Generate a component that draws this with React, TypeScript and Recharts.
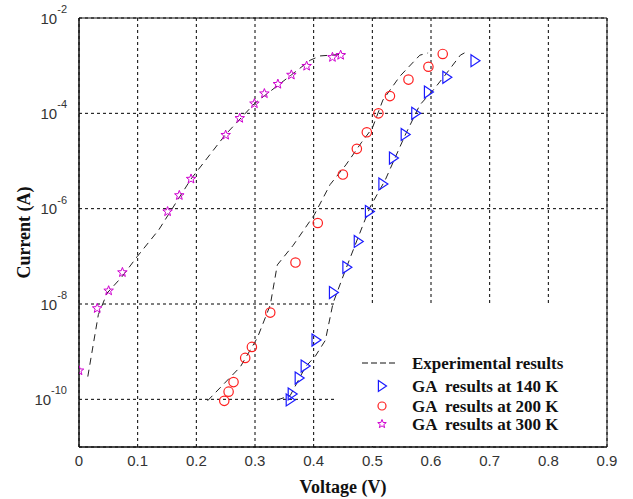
import {
  ComposedChart,
  Line,
  Scatter,
  XAxis,
  YAxis,
  CartesianGrid,
  ReferenceArea,
  Legend,
} from "recharts";

// Experimental I-V curves (volts, amps)
const exp140V = [0.338, 0.36, 0.386, 0.403, 0.42, 0.433, 0.454, 0.474, 0.496, 0.522, 0.556, 0.581, 0.604, 0.624, 0.65, 0.662];
const exp140I = [9.7e-11, 1.2e-10, 4.8e-10, 8.1e-10, 1.74e-9, 1.04e-8, 5.1e-8, 2.2e-7, 1.07e-6, 4.0e-6, 3.5e-5, 1.5e-4, 3.1e-4, 6.3e-4, 1.66e-3, 2.0e-3];

const exp200V = [0.219, 0.275, 0.304, 0.326, 0.338, 0.365, 0.401, 0.428, 0.455, 0.481, 0.5, 0.518, 0.547, 0.581, 0.595];
const exp200I = [9.3e-11, 4.8e-10, 1.95e-9, 9.5e-9, 6.6e-8, 1.7e-7, 7.4e-7, 3.2e-6, 8.3e-6, 2.4e-5, 4.9e-5, 1.9e-4, 6.0e-4, 1.66e-3, 1.85e-3];

const exp300V = [0.015, 0.033, 0.048, 0.073, 0.099, 0.136, 0.191, 0.249, 0.299, 0.362, 0.394, 0.411, 0.454];
const exp300I = [3e-10, 6e-9, 1.7e-8, 3.7e-8, 9.8e-8, 3.6e-7, 4.2e-6, 3.5e-5, 1.6e-4, 6.4e-4, 1.3e-3, 1.6e-3, 1.75e-3];

// GA fitted points
const ga140V = [0.36, 0.3634, 0.3753, 0.3855, 0.404, 0.4337, 0.4566, 0.476, 0.495, 0.518, 0.536, 0.556, 0.574, 0.5956, 0.627, 0.675];
const ga140I = [9.7e-11, 1.3e-10, 2.8e-10, 5.0e-10, 1.75e-9, 1.74e-8, 5.9e-8, 2.05e-7, 8.7e-7, 3.3e-6, 1.15e-5, 3.6e-5, 1.0e-4, 2.8e-4, 5.7e-4, 1.27e-3];

const ga200V = [0.2476, 0.255, 0.2634, 0.2833, 0.2947, 0.326, 0.369, 0.407, 0.4498, 0.4736, 0.4906, 0.5104, 0.53, 0.5616, 0.5956, 0.62];
const ga200I = [9.3e-11, 1.45e-10, 2.3e-10, 7.4e-10, 1.26e-9, 6.6e-9, 7.4e-8, 5.0e-7, 5.2e-6, 1.8e-5, 4.0e-5, 1.0e-4, 2.3e-4, 5.1e-4, 9.5e-4, 1.76e-3];

const ga300V = [0, 0.031, 0.0505, 0.074, 0.151, 0.171, 0.191, 0.25, 0.274, 0.299, 0.316, 0.339, 0.362, 0.388, 0.432, 0.446];
const ga300I = [4e-10, 8.1e-9, 1.9e-8, 4.6e-8, 8.7e-7, 1.9e-6, 4.2e-6, 3.5e-5, 7.9e-5, 1.6e-4, 2.6e-4, 4.1e-4, 6.4e-4, 9.8e-4, 1.5e-3, 1.66e-3];

const xTicks = [0, 0.1, 0.2, 0.3, 0.4, 0.5, 0.6, 0.7, 0.8, 0.9];
const yTicks = [1e-10, 1e-8, 1e-6, 1e-4, 1e-2];

const legendLabels = [
  "Experimental results",
  "GA  results at 140 K",
  "GA  results at 200 K",
  "GA  results at 300 K",
];

const BLUE = "#1a1aff";
const RED = "#ff2020";
const MAGENTA = "#d000d0";
const SANS = "'Liberation Sans', Arial, sans-serif";
const SERIF = "'Liberation Serif', 'Times New Roman', serif";

const toPoints = (v: number[], i: number[]) => v.map((x, k) => ({ v: x, i: i[k] }));

function Triangle({ cx, cy, s = 1 }: { cx: number; cy: number; s?: number }) {
  return (
    <path
      d={`M${cx - 4 * s},${cy - 6 * s} L${cx + 5 * s},${cy} L${cx - 4 * s},${cy + 6 * s} Z`}
      fill="none"
      stroke={BLUE}
      strokeWidth={1.2}
    />
  );
}

function Ring({ cx, cy, r = 4.7 }: { cx: number; cy: number; r?: number }) {
  return <circle cx={cx} cy={cy} r={r} fill="none" stroke={RED} strokeWidth={1.2} />;
}

function Star({ cx, cy, r = 5 }: { cx: number; cy: number; r?: number }) {
  const pts: string[] = [];
  for (let k = 0; k < 10; k++) {
    const a = ((-90 + k * 36) * Math.PI) / 180;
    const rr = k % 2 === 0 ? r : r * 0.42;
    pts.push(`${cx + rr * Math.cos(a)},${cy + rr * Math.sin(a)}`);
  }
  return <polygon points={pts.join(" ")} fill="none" stroke={MAGENTA} strokeWidth={1} />;
}

// "10" with the exponent raised, as on a log axis
function PowerTick({ x, y, payload }: any) {
  const exp = Math.round(Math.log10(payload.value));
  return (
    <text x={x} y={y} textAnchor="end" dominantBaseline="central" fontFamily={SANS} fontSize={15} fill="#333">
      10
      <tspan dy={-9} fontSize={11}>
        {exp}
      </tspan>
    </text>
  );
}

function LegendBox() {
  const rows = [60, 83, 103, 121];
  return (
    <div style={{ width: 271, height: 143, background: "#fff" }}>
      <svg width={271} height={143}>
        <line x1={27} x2={60} y1={rows[0]} y2={rows[0]} stroke="#111" strokeDasharray="6 3" />
        <Triangle cx={47} cy={rows[1]} s={0.9} />
        <Ring cx={47} cy={rows[2]} r={4} />
        <Star cx={47} cy={rows[3]} r={4.5} />
        {legendLabels.map((t, k) => (
          <text
            key={t}
            x={77}
            y={rows[k]}
            dominantBaseline="central"
            fontFamily={SERIF}
            fontWeight="bold"
            fontSize={17}
            fill="#111"
            style={{ whiteSpace: "pre" }}
          >
            {t}
          </text>
        ))}
      </svg>
    </div>
  );
}

export default function App() {
  return (
    <div style={{ position: "absolute", left: 0, top: 0 }}>
      <ComposedChart width={628} height={499} margin={{ top: 18, right: 21, bottom: 0, left: 0 }}>
        <CartesianGrid stroke="#000" strokeDasharray="3 3" />
        <XAxis
          type="number"
          dataKey="v"
          domain={[0, 0.9]}
          ticks={xTicks}
          allowDataOverflow
          height={52}
          tickLine={false}
          tickSize={4}
          tickMargin={4}
          axisLine={{ stroke: "#111" }}
          tick={{ fill: "#333", fontSize: 15, fontFamily: SANS }}
          label={{
            value: "Voltage (V)",
            position: "insideBottom",
            offset: 6,
            style: { fontFamily: SERIF, fontWeight: "bold", fontSize: 18, fill: "#111" },
          }}
        />
        <YAxis
          type="number"
          dataKey="i"
          scale="log"
          domain={[1e-11, 1e-2]}
          ticks={yTicks}
          allowDataOverflow
          width={79}
          tickLine={false}
          tickSize={6}
          tickMargin={6}
          axisLine={{ stroke: "#111" }}
          tick={<PowerTick />}
          label={{
            value: "Current (A)",
            angle: -90,
            position: "insideLeft",
            offset: 24,
            style: { textAnchor: "middle", fontFamily: SERIF, fontWeight: "bold", fontSize: 18, fill: "#111" },
          }}
        />
        <ReferenceArea x1={0} x2={0.9} y1={1e-11} y2={1e-2} fill="none" stroke="#111" strokeWidth={1} />
        <Line data={toPoints(exp140V, exp140I)} dataKey="i" stroke="#222" strokeWidth={1} strokeDasharray="7 5" dot={false} activeDot={false} isAnimationActive={false} />
        <Line data={toPoints(exp200V, exp200I)} dataKey="i" stroke="#222" strokeWidth={1} strokeDasharray="7 5" dot={false} activeDot={false} isAnimationActive={false} />
        <Line data={toPoints(exp300V, exp300I)} dataKey="i" stroke="#222" strokeWidth={1} strokeDasharray="7 5" dot={false} activeDot={false} isAnimationActive={false} />
        <Scatter data={toPoints(ga140V, ga140I)} dataKey="i" isAnimationActive={false} shape={(p: any) => <Triangle cx={p.cx} cy={p.cy} />} />
        <Scatter data={toPoints(ga200V, ga200I)} dataKey="i" isAnimationActive={false} shape={(p: any) => <Ring cx={p.cx} cy={p.cy} />} />
        <Scatter data={toPoints(ga300V, ga300I)} dataKey="i" isAnimationActive={false} shape={(p: any) => <Star cx={p.cx} cy={p.cy} />} />
        <Legend
          verticalAlign="middle"
          align="center"
          wrapperStyle={{ left: 335, top: 303, width: 271, height: 143 }}
          content={() => <LegendBox />}
        />
      </ComposedChart>
    </div>
  );
}
